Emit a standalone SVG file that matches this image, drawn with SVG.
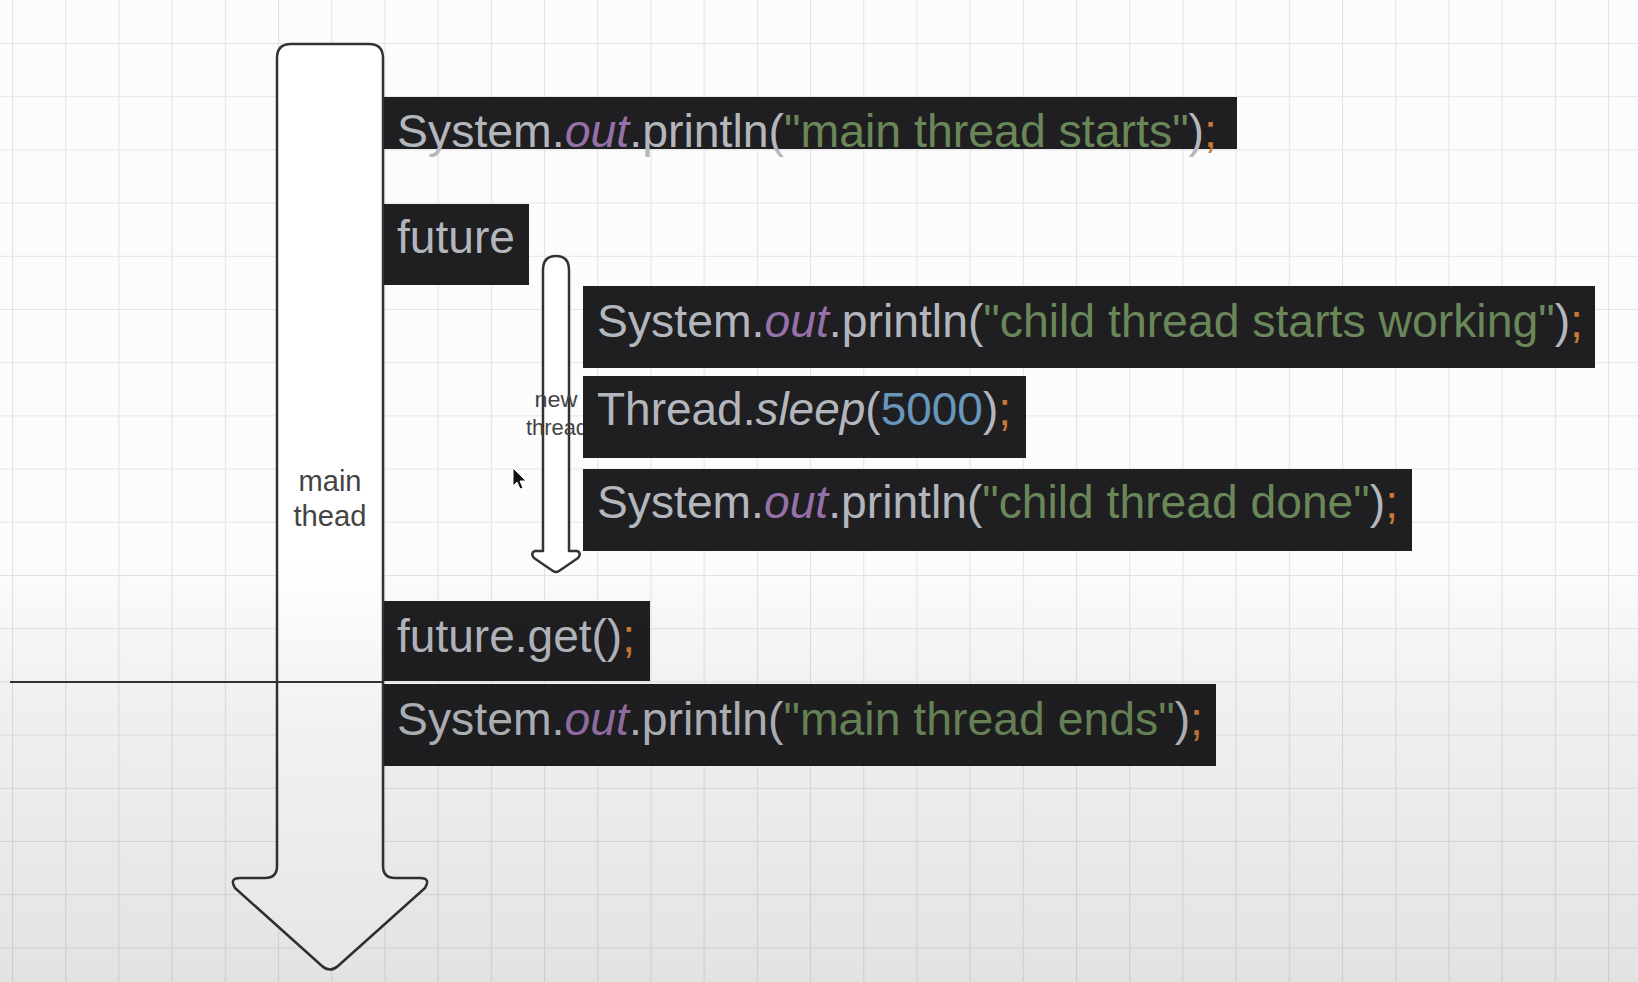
<svg xmlns="http://www.w3.org/2000/svg" width="1638" height="982" viewBox="0 0 1638 982">
<defs>
<pattern id="grid" x="12" y="-10.2" width="53.2" height="53.2" patternUnits="userSpaceOnUse">
<path d="M0.5,0 V53.2 M0,0.5 H53.2" fill="none" stroke="#e4e4e4" stroke-width="1.2"/>
</pattern>
<linearGradient id="shade" x1="0" y1="0" x2="0" y2="1">
<stop offset="0" stop-color="#000" stop-opacity="0"/>
<stop offset="0.35" stop-color="#000" stop-opacity="0.05"/>
<stop offset="1" stop-color="#000" stop-opacity="0.1"/>
</linearGradient>
<style>
.code{font-family:"Liberation Sans",Arial,sans-serif;font-size:46px;fill:#b3b7bd}
.blk{fill:#1f1f21}
.out{fill:#9571a8;font-style:italic}
.it{font-style:italic}
.str{fill:#6a8759}
.semi{fill:#cc7832}
.num{fill:#6897bb}
.lbl{font-family:"Liberation Sans",Arial,sans-serif;fill:#444;text-anchor:middle}
.arrow{fill:#fff;stroke:#333;stroke-width:2.5;stroke-linejoin:round}
</style>
</defs>
<rect width="1638" height="982" fill="#fcfcfc"/>
<rect width="1638" height="982" fill="url(#grid)"/>

<g id="main-arrow">
<path class="arrow" d="M277,58 Q277,44 291,44 L369,44 Q383,44 383,58 L383,866 Q383,878 395,878 L420,878 Q431,878 425,888 L338,966 Q330,973 322,966 L235,888 Q229,878 240,878 L265,878 Q277,878 277,866 Z"/>
<text class="lbl" font-size="29"><tspan x="330" y="491" textLength="63" lengthAdjust="spacingAndGlyphs">main</tspan><tspan x="330" y="526" textLength="73" lengthAdjust="spacingAndGlyphs">thead</tspan></text>
</g>

<g id="new-thread-arrow">
<path class="arrow" d="M543,270 Q543,256 556,256 Q569,256 569,270 L569,551 L577,551 Q582,553 578,558 L559,571 Q556,573 553,571 L534,558 Q530,553 535,551 L543,551 Z"/>
<text class="lbl" font-size="22"><tspan x="556" y="407" textLength="43" lengthAdjust="spacingAndGlyphs">new</tspan><tspan x="557" y="435" textLength="62" lengthAdjust="spacingAndGlyphs">thread</tspan></text>
</g>

<g id="separator">
<line x1="10" y1="682" x2="384" y2="682" stroke="#333" stroke-width="2"/>
</g>

<g id="main-starts">
<rect class="blk" x="384" y="97" width="853" height="52"/>
<text class="code" x="397" y="147" textLength="820" lengthAdjust="spacingAndGlyphs">System.<tspan class="out">out</tspan>.println(<tspan class="str">"main thread starts"</tspan>)<tspan class="semi">;</tspan></text>
</g>

<g id="future">
<rect class="blk" x="384" y="204" width="145" height="81"/>
<text class="code" x="397" y="253" textLength="118" lengthAdjust="spacingAndGlyphs">future</text>
</g>

<g id="child-starts">
<rect class="blk" x="583" y="286" width="1012" height="82"/>
<text class="code" x="597" y="337" textLength="986" lengthAdjust="spacingAndGlyphs">System.<tspan class="out">out</tspan>.println(<tspan class="str">"child thread starts working"</tspan>)<tspan class="semi">;</tspan></text>
</g>

<g id="sleep">
<rect class="blk" x="583" y="376" width="443" height="82"/>
<text class="code" x="597" y="425" textLength="414" lengthAdjust="spacingAndGlyphs">Thread.<tspan class="it">sleep</tspan>(<tspan class="num">5000</tspan>)<tspan class="semi">;</tspan></text>
</g>

<g id="child-done">
<rect class="blk" x="583" y="469" width="829" height="82"/>
<text class="code" x="597" y="518" textLength="801" lengthAdjust="spacingAndGlyphs">System.<tspan class="out">out</tspan>.println(<tspan class="str">"child thread done"</tspan>)<tspan class="semi">;</tspan></text>
</g>

<g id="future-get">
<rect class="blk" x="384" y="601" width="266" height="80"/>
<text class="code" x="397" y="652" textLength="238" lengthAdjust="spacingAndGlyphs">future.get()<tspan class="semi">;</tspan></text>
</g>

<g id="main-ends">
<rect class="blk" x="384" y="684" width="832" height="82"/>
<text class="code" x="397" y="735" textLength="806" lengthAdjust="spacingAndGlyphs">System.<tspan class="out">out</tspan>.println(<tspan class="str">"main thread ends"</tspan>)<tspan class="semi">;</tspan></text>
</g>

<g id="cursor">
<path d="M513,468 L513,486 L517,482 L520,489 L523,488 L520,481 L526,481 Z" fill="#111" stroke="#fff" stroke-width="1"/>
</g>

<rect x="0" y="560" width="1638" height="422" fill="url(#shade)" pointer-events="none"/>
</svg>
